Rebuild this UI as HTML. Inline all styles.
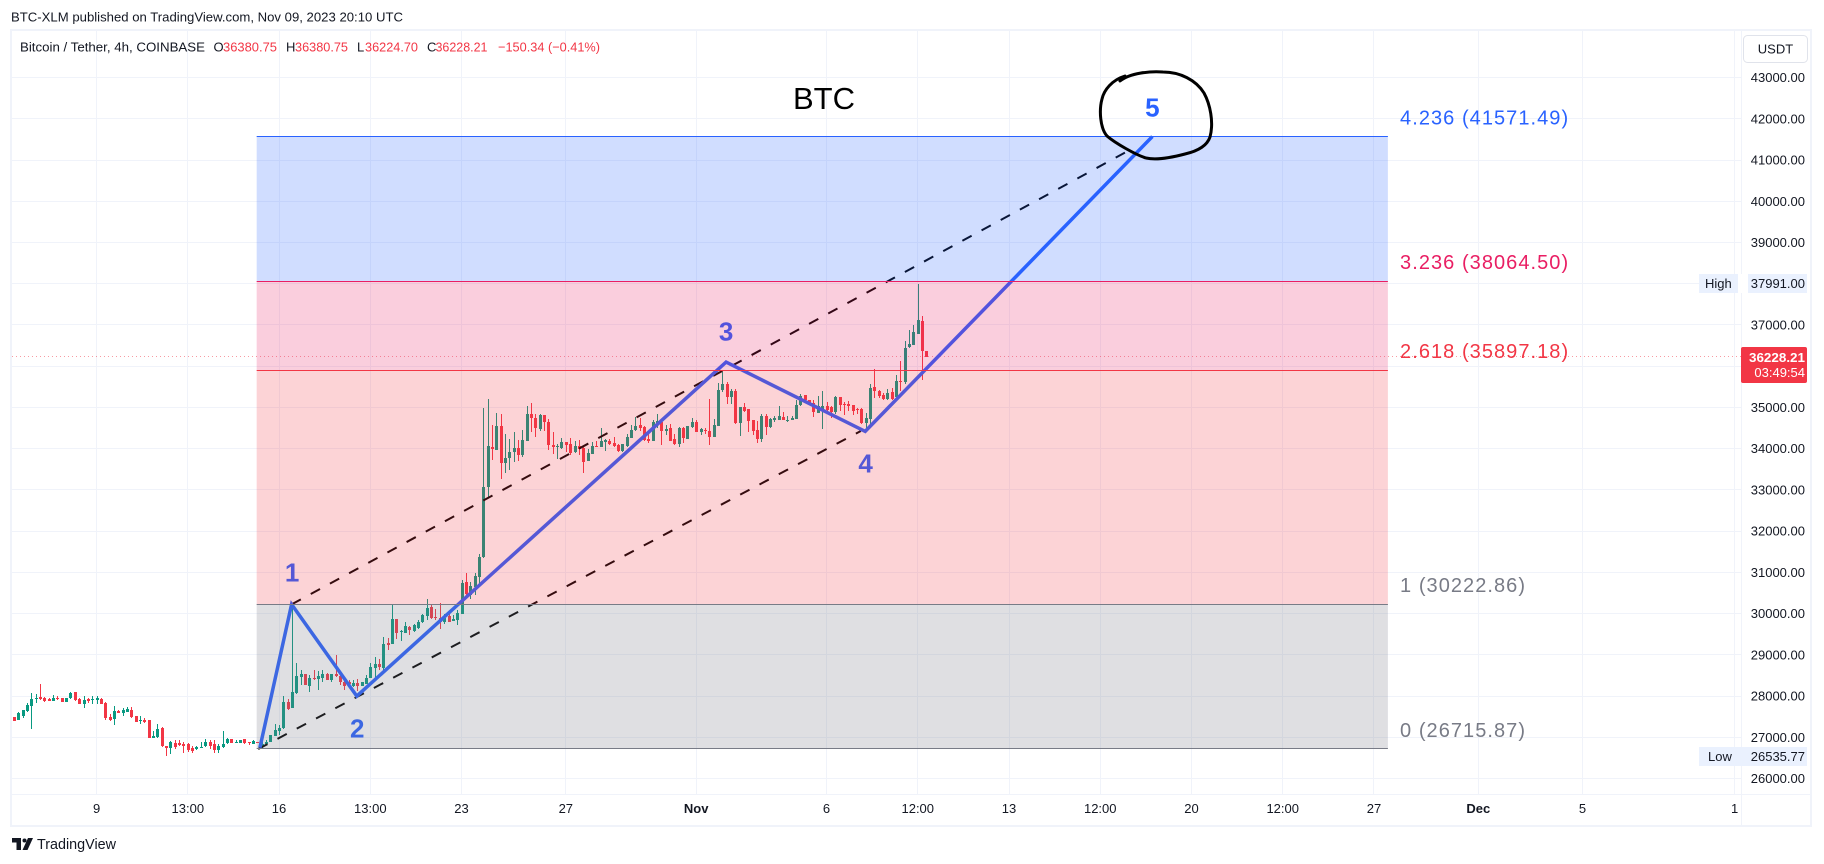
<!DOCTYPE html>
<html lang="en">
<head>
<meta charset="utf-8">
<title>Bitcoin / Tether 4h chart</title>
<style>
html,body{margin:0;padding:0;background:#fff;width:1824px;height:864px;overflow:hidden}
svg{display:block;font-family:"Liberation Sans",sans-serif}
</style>
</head>
<body>
<svg id="chart" xmlns="http://www.w3.org/2000/svg" width="1824" height="864" viewBox="0 0 1824 864">
  <rect x="0" y="0" width="1824" height="864" fill="#ffffff"/>
  <text x="11" y="21.5" font-size="13" fill="#131722" textLength="392" lengthAdjust="spacingAndGlyphs">BTC-XLM published on TradingView.com, Nov 09, 2023 20:10 UTC</text>
  <g id="grid"></g>
  <g id="price-line"></g>
  <g id="candles"></g>
  <g id="drawings"></g>
  <g id="fib"></g>
  <rect x="11" y="30" width="1800" height="796" fill="none" stroke="#f0f3fa" stroke-width="2"/>
  <line x1="11" x2="1811" y1="794.5" y2="794.5" stroke="#f0f3fa" stroke-width="1"/>
  <line x1="1741.5" x2="1741.5" y1="30" y2="826" stroke="#f0f3fa" stroke-width="1"/>
  <g font-size="13">
    <text x="20" y="51.5" fill="#131722" textLength="185" lengthAdjust="spacingAndGlyphs">Bitcoin / Tether, 4h, COINBASE</text>
    <text x="213.500" y="51.5" fill="#131722">O</text>
    <text x="223" y="51.5" fill="#f23645" textLength="54" lengthAdjust="spacingAndGlyphs">36380.75</text>
    <text x="286" y="51.5" fill="#131722">H</text>
    <text x="295" y="51.5" fill="#f23645" textLength="53" lengthAdjust="spacingAndGlyphs">36380.75</text>
    <text x="357" y="51.5" fill="#131722">L</text>
    <text x="365" y="51.5" fill="#f23645" textLength="53" lengthAdjust="spacingAndGlyphs">36224.70</text>
    <text x="427" y="51.5" fill="#131722">C</text>
    <text x="435.500" y="51.5" fill="#f23645" textLength="52" lengthAdjust="spacingAndGlyphs">36228.21</text>
    <text x="498" y="51.5" fill="#f23645" textLength="102" lengthAdjust="spacingAndGlyphs">−150.34 (−0.41%)</text>
  </g>
  <text x="824" y="109" font-size="31" fill="#000000" text-anchor="middle">BTC</text>
  <path d="M1120 81 C1130 73 1150 71 1163 72 C1180 72 1196 80 1204 93 C1210 104 1214 122 1210 137 C1207 146 1198 151 1185 154 C1170 158 1155 160 1146 158 C1136 155 1115 143 1107 136 C1100 128 1099 110 1102 99 C1104 90 1112 80 1125 76" fill="none" stroke="#000000" stroke-width="3" stroke-linecap="round"/>
  <g id="price-axis"></g>
  <g id="time-axis"></g>
  <g>
    <rect x="1743.5" y="35.5" width="64" height="27" rx="4" fill="#ffffff" stroke="#e0e3eb"/>
    <text x="1775.5" y="53.5" font-size="13" fill="#131722" text-anchor="middle">USDT</text>
  </g>
  <g>
    <rect x="1699" y="274" width="108" height="19" fill="#eaf1fe"/>
    <rect x="1738" y="274" width="10" height="19" fill="#ffffff"/>
    <text x="1705" y="288" font-size="13" fill="#131722">High</text>
    <text x="1805" y="288" font-size="13" fill="#131722" text-anchor="end">37991.00</text>
  </g>
  <g>
    <rect x="1699" y="747" width="108" height="19" fill="#eaf1fe"/>
    <text x="1708" y="761" font-size="13" fill="#131722">Low</text>
    <text x="1805" y="761" font-size="13" fill="#131722" text-anchor="end">26535.77</text>
  </g>
  <g>
    <rect x="1741" y="347" width="66" height="36" rx="2" fill="#f23645"/>
    <text x="1805" y="362" font-size="13" font-weight="700" fill="#ffffff" text-anchor="end" textLength="56" lengthAdjust="spacingAndGlyphs">36228.21</text>
    <text x="1805" y="377" font-size="13" fill="#ffffff" text-anchor="end">03:49:54</text>
  </g>
  <g>
    <path d="M12 838h9v12h-4.500v-7.500H12z" fill="#131722"/>
    <circle cx="24.500" cy="840.500" r="2" fill="#131722"/>
    <path d="M28 838h5l-5.500 12h-5z" fill="#131722"/>
    <text x="37" y="849" font-size="15" fill="#131722" textLength="79" lengthAdjust="spacingAndGlyphs">TradingView</text>
  </g>
</svg>
<script>
const opens=[27484,27412,27524,27629,27758,27944,27968,27944,27936,27879,27944,27944,27855,27952,28089,27919,27807,27919,27911,27911,27936,27831,27484,27444,27645,27581,27621,27653,27508,27404,27428,27412,26984,27000,27226,26799,26751,26855,26855,26847,26847,26751,26710,26759,26783,26896,26839,26686,26759,26855,26952,26864,26855,26960,26880,26839,26896,26767,26831,26888,27041,27154,27234,27863,27716,28073,28462,28535,28235,28446,28413,28446,28527,28381,28527,28478,28332,28340,28235,28316,28235,28300,28446,28680,28770,28689,29288,29256,29863,29563,29539,29669,29580,29661,29790,29936,30163,29920,29895,29790,29936,29823,29839,29990,30758,30443,30645,30887,31364,33061,34030,33974,34539,33643,33764,33909,34006,33836,34184,34830,34733,34467,34806,34636,34079,34038,34006,34152,34103,33909,34055,34006,33691,33877,34055,34030,34160,34176,34127,34079,33933,34055,34258,34444,34565,34516,34226,34178,34605,34637,34420,34492,34226,34105,34492,34226,34516,34637,34396,34444,34420,34275,34549,35411,35580,35242,35387,34613,35000,34952,34686,34444,34226,34782,34516,34686,34686,34758,34686,34694,34715,35063,35297,35176,35103,34861,34917,35030,35006,34885,35249,35079,35079,35055,34958,34958,34618,34715,35491,35394,35297,35200,35370,35249,35636,35612,36461,36509,36792,37091,36380.75];
const highs=[27500,27613,27653,27831,28064,28056,28282,27976,27960,28024,27992,27960,27960,28097,28097,27944,28008,27960,28000,27992,27952,27847,27557,27750,27661,27702,27734,27734,27524,27508,27476,27428,27154,27331,27258,26799,26912,26944,26928,26896,26863,26799,26783,26888,26968,26944,26928,26831,27146,26984,26960,26928,26944,26968,26896,26928,26896,26888,26928,27065,27315,27299,27992,27927,30222,28802,28640,28535,28502,28624,28599,28624,28559,28527,28988,28527,28421,28381,28381,28421,28348,28502,28810,28948,28899,29434,29418,30244,29879,29596,29798,29693,29758,29855,30001,30365,30203,30122,30268,30001,30001,29960,30082,30807,30992,30766,30984,31437,34976,35210,34564,34871,34830,34362,34240,34394,34200,34442,35024,35113,34846,34846,34806,34717,34394,34119,34265,34168,34249,34176,34200,34038,33990,34152,34176,34491,34224,34224,34281,34103,34119,34346,34565,34758,34734,34549,34412,34686,34847,34653,34565,34605,34347,34524,34524,34541,34734,34686,34508,34492,35193,34726,35596,35870,35605,35459,35459,35000,35097,34952,34686,34661,34847,34831,34734,34782,35024,34879,34782,34782,35192,35321,35313,35192,35176,35273,35394,35135,35030,35273,35249,35127,35152,35055,34982,34982,34861,35564,35927,35418,35362,35442,35467,35782,36121,36606,36873,36994,37991,37212,36380.75];
const lows=[27387,27412,27476,27613,27194,27831,27903,27855,27871,27871,27911,27847,27855,27936,27887,27798,27702,27839,27807,27815,27807,27412,27387,27299,27581,27508,27605,27476,27363,27331,27347,26976,26984,26992,26767,26536,26600,26718,26783,26620,26640,26620,26702,26751,26767,26726,26620,26620,26743,26831,26855,26855,26855,26847,26807,26831,26888,26751,26815,26880,27025,27049,27210,27653,27716,28057,28259,28259,28097,28381,28138,28348,28381,28340,28462,28259,28138,28219,28219,28113,28235,28284,28429,28446,28624,28624,29110,29256,29393,29337,29531,29474,29555,29636,29774,29855,29879,29855,29636,29758,29798,29823,29717,29990,30386,30362,30443,30710,31348,32826,33715,33958,33255,33408,33473,33683,33691,33796,34184,34402,34281,34426,34426,33958,33861,33740,33998,33917,33836,33901,33836,33400,33691,33861,34030,34030,33933,34079,34038,33925,33917,34038,34258,34436,34428,34178,34138,34178,34500,34081,34323,34178,34081,34033,34130,34226,34500,34396,34323,34347,34081,34275,34549,35371,35073,35073,34605,34299,34887,34396,34323,34130,34154,34323,34492,34653,34686,34686,34653,34686,34715,35047,35160,35095,34772,34861,34481,34853,34756,34836,34909,34812,34909,34812,34836,34594,34473,34610,35224,35240,35176,35176,35176,35216,35394,35564,36436,36509,36776,35661,36224.70];
const closes=[27387,27581,27653,27774,27936,27960,27919,27887,27879,27944,27927,27855,27960,28073,27895,27807,27895,27871,27936,27952,27815,27460,27412,27629,27589,27661,27678,27484,27379,27420,27363,26984,27025,27210,26783,26751,26888,26775,26815,26799,26686,26670,26767,26775,26888,26783,26686,26783,26847,26952,26855,26880,26944,26855,26855,26912,26888,26831,26888,27049,27170,27234,27847,27678,28089,28478,28527,28259,28429,28405,28478,28527,28381,28527,28478,28332,28235,28284,28316,28235,28348,28446,28697,28770,28697,29256,29239,29863,29539,29580,29693,29596,29725,29806,29968,30147,29904,29887,29790,29895,29806,29863,30017,30742,30483,30661,30903,31364,33061,34055,33982,34539,33651,33780,33909,34006,33836,34200,34830,34733,34491,34806,34644,34079,34030,34055,34152,34079,33901,34055,33982,33667,33885,34055,34030,34176,34208,34103,34055,33933,34103,34273,34460,34557,34492,34202,34178,34637,34661,34428,34484,34178,34105,34492,34250,34541,34637,34396,34468,34420,34275,34565,35435,35580,35250,35387,34613,35000,34903,34661,34420,34226,34782,34516,34710,34734,34782,34686,34702,34734,35063,35273,35176,35111,34885,35030,35030,34950,34885,35249,35055,35055,35030,34909,34933,34618,34740,35467,35394,35273,35200,35346,35200,35636,35612,36436,36533,36824,37115,36364,36228.21];

const priceTicks=[26000,27000,28000,29000,30000,31000,32000,33000,34000,35000,36000,37000,38000,39000,40000,41000,42000,43000];
const timeTickBars=[19,40,61,82,103,127,157,187,208,229,250,271,292,313,337,361,396];
const timeTickLabels=["9","13:00","16","13:00","23","27","Nov","6","12:00","13","12:00","20","12:00","27","Dec","5","1"];
const boldTimeLabels=["Nov","Dec"];

const fibRatios=["4.236","3.236","2.618","1","0"];
const fibPrices=[41571.49,38064.50,35897.18,30222.86,26715.87];
const fibColors=["#2962ff","#e91e63","#f23645","#787b86","#787b86"];
const fibLabelPrices=[42032,38527,36369,30693,27176];
const fibStartBar=55.85;
const fibEndBar=316.2;
const fibLabelBar=319;

const waveBars=[56.6,63.9,78.9,163.9,195.9,262];
const wavePrices=[26750,30222.86,28000,36100,34420,41571.49];
const waveLabels=["1","2","3","4","5"];
const waveLabelBars=[64,79,163.9,196,262];
const waveLabelPrices=[31010,27225,36854,33653,42287];
const upperChannelBars=[63.9,257.8];
const upperChannelPrices=[30222.86,41300];
const lowerChannelBars=[56.2,194.9];
const lowerChannelPrices=[26715.87,34429];
const lastPrice=36228.21;

const SVGNS="http://www.w3.org/2000/svg";
function xBar(i){return 14+4.345*i;}
function yPrice(p){return 77.6+(43000-p)*0.04123;}
function mk(parent,tag,attrs){
  const el=document.createElementNS(SVGNS,tag);
  for(const k in attrs){el.setAttribute(k,attrs[k]);}
  parent.appendChild(el);
  return el;
}
const PANE_L=12,PANE_R=1741,PANE_T=31,PANE_B=794;
const grid=document.getElementById('grid');
priceTicks.forEach(function(p){
  const y=Math.floor(yPrice(p))+.5;
  const l=mk(grid,'line',{x1:PANE_L,x2:PANE_R,y1:y,y2:y,stroke:'#f0f3fa','stroke-width':1});
  
  
});
timeTickBars.forEach(function(b){
  const x=Math.floor(xBar(b))+.5;
  const l=mk(grid,'line',{x1:x,x2:x,y1:PANE_T,y2:PANE_B,stroke:'#f0f3fa','stroke-width':1});
  
  
});

const priceAxis=document.getElementById('price-axis');
priceTicks.forEach(function(p){
  const t=mk(priceAxis,'text',{x:1805,y:yPrice(p)+4.5,'font-size':13,fill:'#131722','text-anchor':'end'});
  t.textContent=p.toFixed(2);
  
  
});
const timeAxis=document.getElementById('time-axis');
timeTickBars.forEach(function(b,i){
  const label=timeTickLabels[i];
  const t=mk(timeAxis,'text',{x:xBar(b),y:813,'font-size':13,fill:'#131722','text-anchor':'middle','font-weight':boldTimeLabels.indexOf(label)>=0?700:400});
  t.textContent=label;
  
  
});

const lastLineGroup=document.getElementById('price-line');
const lastLine=mk(lastLineGroup,'line',{x1:PANE_L,x2:PANE_R,y1:Math.floor(yPrice(lastPrice))+.5,y2:Math.floor(yPrice(lastPrice))+.5,stroke:'#f23645','stroke-width':1,'stroke-dasharray':'1 3','stroke-opacity':.5});



const candles=document.getElementById('candles');
opens.forEach(function(o,i){
  const c=closes[i],up=c>=o,color=up?'#089981':'#f23645';
  const x=Math.round(xBar(i));
  const g=mk(candles,'g',{'shape-rendering':'crispEdges',fill:color});
  
  
  const yh=yPrice(highs[i]),yl=yPrice(lows[i]);
  const top=yPrice(Math.max(o,c)),bot=yPrice(Math.min(o,c));
  const w=mk(g,'rect',{x:x,y:Math.round(yh),width:1,height:Math.max(1,Math.round(yl)-Math.round(yh))});
  
  
  const b=mk(g,'rect',{x:x-1,y:Math.round(top),width:3,height:Math.max(1,Math.round(bot)-Math.round(top))});
  
  
});

const drawings=document.getElementById('drawings');
function linePath(bars,prices){
  return bars.map(function(b,i){return (i?'L':'M')+xBar(b).toFixed(1)+' '+yPrice(prices[i]).toFixed(1);}).join(' ');
}
const upperChannel=mk(drawings,'path',{d:linePath(upperChannelBars,upperChannelPrices),fill:'none',stroke:'#000000','stroke-width':2,'stroke-dasharray':'10.5 11.3'});


const lowerChannel=mk(drawings,'path',{d:linePath(lowerChannelBars,lowerChannelPrices),fill:'none',stroke:'#000000','stroke-width':2,'stroke-dasharray':'10.5 11.3'});


const wave=mk(drawings,'path',{d:linePath(waveBars,wavePrices),fill:'none',stroke:'#2962ff','stroke-width':3.5,'stroke-linejoin':'miter'});


waveLabels.forEach(function(s,i){
  const t=mk(drawings,'text',{x:xBar(waveLabelBars[i]),y:yPrice(waveLabelPrices[i])+9.5,'font-size':26,'font-weight':700,fill:'#2962ff','text-anchor':'middle'});
  t.textContent=s;
  
  
});

const fib=document.getElementById('fib');
const fxL=xBar(fibStartBar),fxR=xBar(fibEndBar);
fibPrices.forEach(function(p,i){
  const y=yPrice(p);
  if(i<fibPrices.length-1){
    const y2=yPrice(fibPrices[i+1]);
    const a=i===3?.24:.22;
    const r=mk(fib,'rect',{x:fxL,y:y,width:fxR-fxL,height:y2-y,fill:fibColors[i],'fill-opacity':a});
    
    
  }
  const ly=Math.floor(y)+.5;
  const l=mk(fib,'line',{x1:fxL,x2:fxR,y1:ly,y2:ly,stroke:fibColors[i],'stroke-width':1});
  
  
  const t=mk(fib,'text',{x:xBar(fibLabelBar),y:yPrice(fibLabelPrices[i])+7,'font-size':20,'letter-spacing':1.05,fill:fibColors[i]});
  t.textContent=fibRatios[i]+' ('+p.toFixed(2)+')';
  
  
});
</script>
</body>
</html>
